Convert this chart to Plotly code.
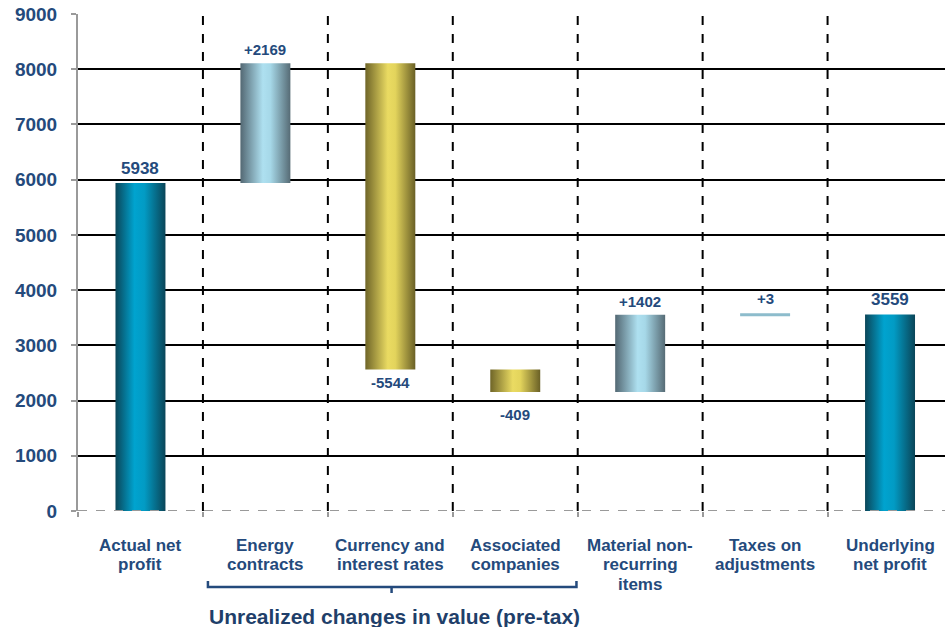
import plotly.graph_objects as go

categories = ["Actual net<br>profit", "Energy<br>contracts", "Currency and<br>interest rates",
              "Associated<br>companies", "Material non-<br>recurring<br>items",
              "Taxes on<br>adjustments", "Underlying<br>net profit"]
values = [5938, 2169, -5544, -409, 1402, 3, 3559]
kinds = ["total", "delta", "delta", "delta", "delta", "delta", "total"]
value_labels = ["5938", "+2169", "-5544", "-409", "+1402", "+3", "3559"]
y_ticks = [0, 1000, 2000, 3000, 4000, 5000, 6000, 7000, 8000, 9000]
group_label = "Unrealized changes in value (pre-tax)"

TXT = "#244a7c"
FONT = "Liberation Sans, Arial, sans-serif"
BAR_HALF = 0.2

scale_total = [[0, "#0b4659"], [0.38, "#00a3cf"], [0.58, "#029bc4"], [1, "#0a4558"]]
scale_up = [[0, "#536873"], [0.45, "#aee0f0"], [0.6, "#a6d8e8"], [1, "#566b75"]]
scale_down = [[0, "#6f6528"], [0.45, "#eadb62"], [0.6, "#e3d45c"], [1, "#6a6026"]]

fig = go.Figure()

running = 0
bars = []
for i, (v, k) in enumerate(zip(values, kinds)):
    if k == "total":
        lo, hi = 0, v
        running = v
    else:
        start = running
        running = running + v
        lo, hi = min(start, running), max(start, running)
    bars.append((lo, hi))
    if k == "total":
        cs = scale_total
    elif v >= 0:
        cs = scale_up
    else:
        cs = scale_down
    thin = (hi - lo) < 50
    fig.add_trace(go.Scatter(
        x=[i - BAR_HALF, i + BAR_HALF, i + BAR_HALF, i - BAR_HALF, i - BAR_HALF],
        y=[lo, lo, hi, hi, lo],
        mode="lines", fill="toself",
        fillgradient=dict(type="horizontal", colorscale=cs),
        line=dict(width=3 if thin else 0, color="#8dbccc"),
        hoverinfo="skip", showlegend=False,
    ))

# value labels
label_shift = [3, 3, -3, -12, 3, 5, 3]
for i, (v, k) in enumerate(zip(values, kinds)):
    lo, hi = bars[i]
    if v >= 0:
        y, anchor = hi, "bottom"
    else:
        y, anchor = lo, "top"
    fig.add_annotation(x=i, y=y, text=value_labels[i], showarrow=False,
                       yanchor=anchor, yshift=label_shift[i],
                       font=dict(family=FONT, size=17 if k == "total" else 15, color=TXT))

# dashed separators
for b in range(len(categories) - 1):
    fig.add_shape(type="line", x0=b + 0.5, x1=b + 0.5, y0=0, y1=9000,
                  line=dict(color="black", width=2, dash="dash"), layer="above")

# bottom gray dashed axis
fig.add_shape(type="line", x0=-0.5, x1=6.5, y0=0, y1=0,
              line=dict(color="#9a9a9a", width=2, dash="dash"), layer="above")

# category labels (one annotation per line for tighter line spacing)
for i, c in enumerate(categories):
    for j, line in enumerate(c.split("<br>")):
        fig.add_annotation(x=i, y=0, yref="paper", yshift=-34 - j * 19.5, text=line,
                           showarrow=False, yanchor="middle", xanchor="center",
                           font=dict(family=FONT, size=17, color=TXT))

# bracket
fig.add_shape(type="path", xref="x", yref="paper",
              path="M 0.54,-0.1407 L 0.54,-0.1528 L 3.49,-0.1528 L 3.49,-0.1407",
              line=dict(color=TXT, width=2.5))
fig.add_shape(type="line", xref="x", yref="paper", x0=2.01, x1=2.01, y0=-0.1528, y1=-0.1650,
              line=dict(color=TXT, width=2.5))
fig.add_annotation(x=2.03, y=0, yref="paper", yshift=-105, text=group_label, showarrow=False,
                   yanchor="middle", font=dict(family=FONT, size=21, color="#1f3f6a"))

fig.update_layout(
    width=945, height=627,
    margin=dict(l=78, r=0, t=14, b=116),
    plot_bgcolor="white", paper_bgcolor="white",
    font=dict(family=FONT, color=TXT),
    xaxis=dict(range=[-0.5, 6.44], tickvals=[-0.5, 0.5, 1.5, 2.5, 3.5, 4.5, 5.5],
               showticklabels=False, ticks="outside", ticklen=5, tickcolor="#9a9a9a",
               tickwidth=1.5, showgrid=False, zeroline=False, showline=False),
    yaxis=dict(range=[0, 9000], tickvals=y_ticks, ticktext=[str(t) for t in y_ticks],
               showgrid=True, gridcolor="black", gridwidth=2, zeroline=False,
               showline=True, linecolor="#9a9a9a", linewidth=2,
               ticks="outside", ticklen=5, tickcolor="#9a9a9a", tickwidth=1.5,
               tickfont=dict(family=FONT, size=19, color=TXT), ticklabelstandoff=10),
)
fig.update_yaxes(tickfont_weight="bold")
fig.update_layout(font_weight="bold")
for a in fig.layout.annotations:
    a.font.weight = "bold"

fig.write_html("out.html")
